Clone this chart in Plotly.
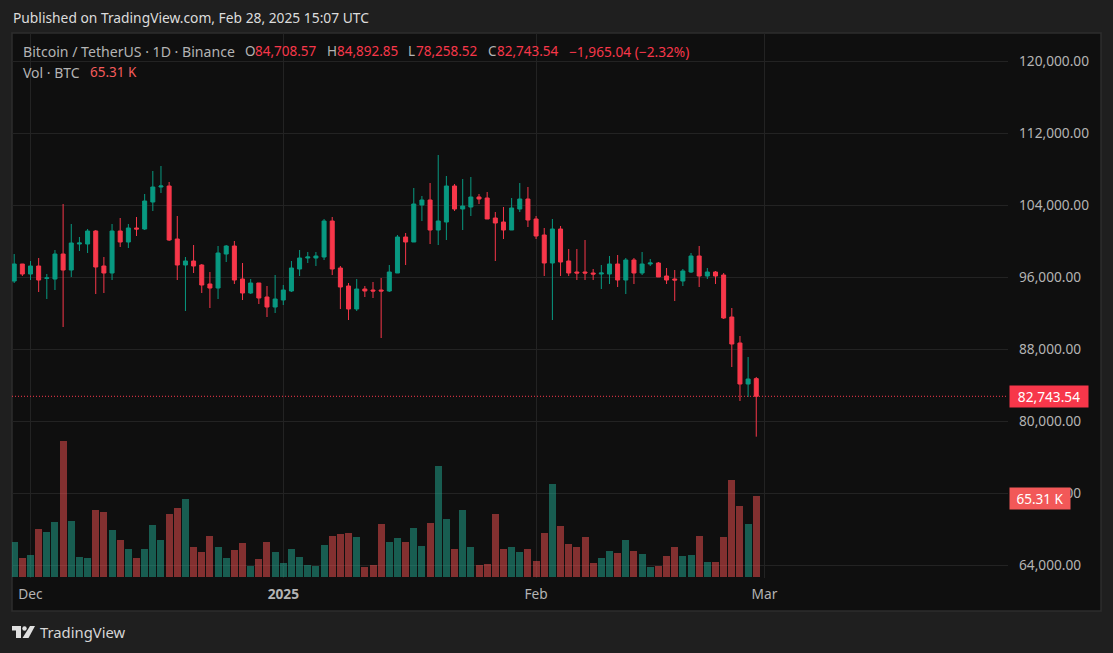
import pandas as pd
import plotly.graph_objects as go

dates = pd.date_range("2024-11-29", periods=92, freq="D")

opens = [95554,97443,96332,97221,95850,95776,98554,96776,99666,99666,101110,97221,96443,101110,99888,101444,
         101332,104333,106000,106111,100221,97332,97777,97332,95221,94776,98554,99443,95776,94221,95332,93777,
         92666,93443,94443,96888,98110,98110,98221,102221,96999,94999,92443,94665,94554,94554,94443,96443,
         100443,99888,103999,104555,101221,102110,106111,103555,103777,104888,104777,102555,102110,101221,103555,104666,
         102444,100666,97555,101333,97777,96555,96555,96444,96333,96333,97444,95666,97888,96444,
         97444,97555,96110,95777,95555,96555,98333,96110,96555,96222,91555,88666,84110,84708.57]
highs = [98554,97450,97777,98110,96332,98999,104110,101888,100443,101332,101221,98221,101888,102555,101888,102666,
         105222,107777,108333,106555,102777,98221,99555,97443,96555,99443,99555,99999,97555,95776,95332,94999,
         96221,95110,97777,98999,98777,98777,102444,102666,97221,95332,95776,94999,95443,95888,97332,100666,
         100888,105888,104999,106444,109555,107222,106333,106888,107111,105222,105444,103222,103777,104777,106444,105999,
         102777,101444,102444,101666,99110,99110,100110,96888,97333,98333,98444,98111,98111,98777,
         97999,97666,96999,96777,96888,98666,99444,96999,96666,96444,92555,89444,87110,84892.85]
lows = [95332,96110,95665,94332,93554,94554,90443,95999,98888,98666,94110,94221,95665,99332,99221,100555,
        101221,103333,105333,99999,95665,92221,96443,94221,92554,93554,97666,95221,93443,94110,92999,91554,
        91999,92888,94332,96110,97555,97221,97888,96221,92443,91221,92221,93777,93666,89220,94332,96443,
        97332,99888,102221,99666,99555,100110,103333,101221,102777,104110,102444,97777,100221,101221,103222,101554,
        100221,96110,91221,96110,96110,95666,95666,95666,94666,95221,94888,94110,95221,96221,
        97221,95999,95221,93333,94999,96444,94888,95777,95221,91333,85999,82222,82666,78258.52]
closes = [97443,96332,97221,95665,95900,98554,96776,99777,99777,101110,97110,96443,101110,99888,101444,101332,
          104444,106000,106111,100110,97332,97777,97221,95110,94776,98666,99443,95665,94221,95332,93666,92666,
          93554,94554,96999,98110,98221,98332,102221,96888,94888,92443,94665,94443,94443,94443,96555,100443,
          99888,104110,104555,101221,102221,106111,103555,103888,104888,104666,102444,101999,101221,103666,104666,102332,
          100555,97555,101333,97666,96444,96444,96444,96333,96444,97444,95666,97888,96444,97444,
          97555,95999,95666,95666,96666,98333,96110,96555,96110,91444,88555,84110,84665,82743.54]
volumes_k = [28.2,15.3,17.7,38.7,36.3,44.3,109.6,45.1,16.1,15.3,54.0,52.4,37.9,29.8,22.6,15.3,
             22.6,41.9,29.8,50.8,55.6,62.9,24.2,20.2,33.0,24.2,15.3,21.8,27.4,8.9,14.5,28.2,
             20.2,11.3,22.6,16.1,9.7,8.9,25.8,33.0,34.7,35.5,32.2,8.1,9.7,42.7,28.2,31.4,
             28.2,39.5,25.0,43.5,89.5,46.8,22.6,54.0,24.2,9.7,10.5,50.8,22.6,24.2,20.2,22.6,
             12.9,35.5,75.0,41.1,26.6,24.2,32.2,11.3,15.3,21.0,19.3,29.8,21.0,18.5,
             8.1,8.9,16.9,24.2,16.9,17.7,33.0,12.1,12.1,32.2,78.2,57.2,42.7,65.31]
assert len(dates) == len(opens) == len(highs) == len(lows) == len(closes) == len(volumes_k)

price_ticks = [64000, 72000, 80000, 88000, 96000, 104000, 112000, 120000]
time_ticks = ["2024-12-01", "2025-01-01", "2025-02-01", "2025-03-01"]
time_labels = ["Dec", "<b>2025</b>", "Feb", "Mar"]
day_change = -1965.04
day_change_pct = "−2.32%"

UP, DOWN = "#089981", "#f7374a"
UP_VOL, DOWN_VOL = "rgba(34,171,148,0.5)", "rgba(247,82,82,0.5)"
PAGE, PANE, FRAME, GRID = "#1f1f1f", "#0f0f0f", "#2e2e2e", "#232323"
TEXT, FONT = "#b4b4b4", "Noto Sans"

W, H = 1113, 653
L, R, T, B = 12, 1008, 33, 578


def px(x):
    return (x - L) / (R - L)


def py(y):
    return 1 - (y - T) / (B - T)


fig = go.Figure()
fig.add_trace(go.Bar(
    x=dates, y=volumes_k, yaxis="y2", width=7 * 86400000 / 8.155,
    marker=dict(color=[UP_VOL if c >= o else DOWN_VOL for o, c in zip(opens, closes)], line_width=0),
    hoverinfo="skip", showlegend=False,
))
fig.add_trace(go.Candlestick(
    x=dates, open=opens, high=highs, low=lows, close=closes, whiskerwidth=0,
    increasing=dict(line=dict(color=UP, width=1), fillcolor=UP),
    decreasing=dict(line=dict(color=DOWN, width=1), fillcolor=DOWN),
    showlegend=False,
))


def label(x, y, text, color=TEXT, size=13.5, **kw):
    fig.add_annotation(xref="paper", yref="paper", x=px(x), y=py(y), text=text, showarrow=False,
                       xanchor="left", yanchor="middle", align="left",
                       font=dict(family=FONT, size=size, color=color), borderpad=0, **kw)


def money(v):
    return f"{v:,.2f}"


last_o, last_h, last_l, last_c = opens[-1], highs[-1], lows[-1], closes[-1]
label(12, 18, "Published on TradingView.com, Feb 28, 2025 15:07 UTC", color="#dcdcdc", size=13.8)
label(22, 51, "Bitcoin / TetherUS · 1D · Binance", size=14.1)
for x, letter, vx, val in [(244, "O", 254, last_o), (326, "H", 336, last_h),
                           (407, "L", 415, last_l), (487, "C", 496, last_c)]:
    label(x, 51, letter)
    label(vx, 51, money(val), color=DOWN)
label(568, 51, f"−{abs(day_change):,.2f} ({day_change_pct})", color=DOWN, size=13.7)
label(22, 72, "Vol · BTC", size=14)
label(89, 72, f"{volumes_k[-1]:.2f} K", color="#f45b5b")

fig.add_annotation(xref="paper", yref="y", x=px(1009), y=last_c, text=money(last_c), showarrow=False,
                   xanchor="left", yanchor="middle", width=78, height=21, align="center", borderpad=0,
                   bgcolor="#f7374a", font=dict(family=FONT, size=13.7, color="#ffffff"))
fig.add_annotation(xref="paper", yref="y2", x=px(1009), y=volumes_k[-1] - 2, text=f"{volumes_k[-1]:.2f} K", showarrow=False,
                   xanchor="left", yanchor="middle", width=60, height=21, align="center", borderpad=0,
                   bgcolor="#f25858", font=dict(family=FONT, size=13.5, color="#ffffff"))
label(39, 632, "TradingView", color="#d6d6d6", size=14.8)


def poly(points):
    return "M" + " L".join(f"{px(x):.5f},{py(y):.5f}" for x, y in points) + " Z"


shapes = [
    dict(type="rect", xref="paper", yref="paper", x0=px(12), x1=px(1101), y0=py(611), y1=py(33),
         fillcolor=PANE, line=dict(color=FRAME, width=1.5), layer="below"),
    dict(type="line", xref="paper", yref="y", x0=0, x1=px(1008), y0=last_c, y1=last_c,
         line=dict(color=DOWN, width=1, dash="1px,2px"), layer="above"),
    dict(type="path", xref="paper", yref="paper", fillcolor="#e0e0e0", line_width=0,
         path=poly([(12, 626), (21, 626), (21, 638), (16, 638), (16, 630.5), (12, 630.5)])),
    dict(type="circle", xref="paper", yref="paper", fillcolor="#e0e0e0", line_width=0,
         x0=px(22.3), x1=px(26.7), y0=py(630.7), y1=py(626.3)),
    dict(type="path", xref="paper", yref="paper", fillcolor="#e0e0e0", line_width=0,
         path=poly([(30, 626), (35, 626), (28.5, 638), (22.5, 638)])),
]

fig.update_layout(
    width=W, height=H, autosize=False,
    margin=dict(l=L, r=W - R, t=T, b=H - B, pad=0, autoexpand=False),
    paper_bgcolor=PAGE, plot_bgcolor=PANE, showlegend=False, bargap=0, shapes=shapes, boxgap=0.3,
    font=dict(family=FONT, color=TEXT, size=13.7),
    xaxis=dict(type="date", range=["2024-11-28 17:33", "2025-03-30 20:53"], rangeslider=dict(visible=False),
               tickmode="array", tickvals=time_ticks, ticktext=time_labels, showgrid=True, gridcolor=GRID, gridwidth=1,
               zeroline=False, showline=False, ticks="", ticklabelstandoff=6, tickfont=dict(family=FONT, size=13.7, color=TEXT)),
    yaxis=dict(side="right", range=[62556, 123111], tickmode="array", tickvals=price_ticks, tickformat=",.2f",
               showgrid=True, gridcolor=GRID, gridwidth=1, zeroline=False, showline=False, ticks="",
               ticklabelstandoff=10, tickfont=dict(family=FONT, size=13.7, color=TEXT)),
    yaxis2=dict(overlaying="y", side="right", range=[-0.806, 438.5], visible=False, showgrid=False, zeroline=False),
)

fig.write_html("out.html", config=dict(displayModeBar=False),
               post_script="document.body.style.margin='0';document.body.style.overflow='hidden';")
